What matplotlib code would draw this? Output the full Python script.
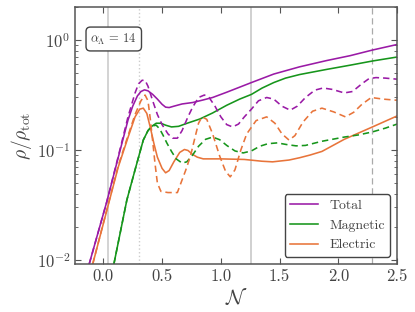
import matplotlib
matplotlib.use("Agg")
import matplotlib.pyplot as plt

plt.rcParams["font.family"] = "serif"
plt.rcParams["font.serif"] = ["cmr10", "DejaVu Serif"]
plt.rcParams["mathtext.fontset"] = "cm"
plt.rcParams["axes.formatter.use_mathtext"] = True

# --- datos ---
n_total = [-0.12, 0.03, 0.13, 0.21, 0.25, 0.29, 0.32, 0.35, 0.38, 0.42, 0.46, 0.50,
           0.53, 0.56, 0.60, 0.67, 0.76, 0.85, 0.93, 1.05, 1.26, 1.45, 1.67, 1.90,
           2.10, 2.29, 2.50]
total = [0.0092, 0.034, 0.088, 0.187, 0.25, 0.31, 0.34, 0.352, 0.345, 0.32, 0.29, 0.26,
         0.245, 0.243, 0.25, 0.262, 0.27, 0.285, 0.30, 0.335, 0.41, 0.49, 0.57, 0.65,
         0.72, 0.81, 0.91]

n_total_b = [-0.12, 0.03, 0.13, 0.21, 0.27, 0.30, 0.33, 0.355, 0.38, 0.42, 0.46, 0.50,
             0.55, 0.59, 0.63, 0.67, 0.72, 0.76, 0.81, 0.86, 0.90, 0.95, 1.00, 1.05,
             1.10, 1.15, 1.20, 1.26, 1.32, 1.39, 1.45, 1.52, 1.59, 1.65, 1.72, 1.80,
             1.87, 1.95, 2.05, 2.12, 2.20, 2.26, 2.32, 2.40, 2.50]
total_b = [0.0092, 0.034, 0.09, 0.20, 0.33, 0.40, 0.43, 0.43, 0.38, 0.28, 0.21, 0.17,
           0.14, 0.128, 0.128, 0.15, 0.20, 0.245, 0.30, 0.316, 0.30, 0.25, 0.20, 0.17,
           0.162, 0.172, 0.20, 0.235, 0.28, 0.30, 0.29, 0.25, 0.23, 0.25, 0.30, 0.35,
           0.366, 0.355, 0.33, 0.34, 0.40, 0.445, 0.455, 0.45, 0.44]

n_mag = [0.09, 0.20, 0.27, 0.34, 0.38, 0.415, 0.45, 0.49, 0.53, 0.58, 0.64, 0.72,
         0.82, 0.93, 1.05, 1.16, 1.26, 1.35, 1.45, 1.55, 1.67, 1.90, 2.10, 2.29, 2.50]
mag = [0.0092, 0.035, 0.066, 0.123, 0.15, 0.165, 0.175, 0.175, 0.168, 0.162, 0.164, 0.176,
       0.191, 0.217, 0.255, 0.29, 0.32, 0.365, 0.41, 0.45, 0.485, 0.54, 0.59, 0.644, 0.70]

n_mag_b = [0.09, 0.20, 0.27, 0.34, 0.38, 0.415, 0.45, 0.48, 0.51, 0.54, 0.58, 0.62,
           0.67, 0.71, 0.76, 0.81, 0.87, 0.93, 0.99, 1.05, 1.12, 1.19, 1.26, 1.33,
           1.40, 1.48, 1.56, 1.64, 1.72, 1.86, 2.05, 2.17, 2.29, 2.40, 2.50]
mag_b = [0.0092, 0.035, 0.066, 0.123, 0.15, 0.165, 0.168, 0.155, 0.135, 0.116, 0.097, 0.083,
         0.076, 0.078, 0.09, 0.108, 0.125, 0.131, 0.124, 0.11, 0.098, 0.094, 0.098, 0.108,
         0.114, 0.116, 0.112, 0.109, 0.11, 0.12, 0.131, 0.137, 0.146, 0.158, 0.172]

n_ele = [-0.09, 0.127, 0.21, 0.27, 0.31, 0.34, 0.37, 0.40, 0.43, 0.46, 0.50, 0.53,
         0.56, 0.60, 0.65, 0.69, 0.72, 0.76, 0.80, 0.85, 1.00, 1.20, 1.35, 1.44,
         1.58, 1.67, 1.76, 1.86, 2.05, 2.29, 2.50]
ele = [0.0092, 0.07, 0.13, 0.20, 0.235, 0.24, 0.215, 0.16, 0.115, 0.086, 0.068, 0.062,
       0.065, 0.078, 0.095, 0.101, 0.099, 0.091, 0.086, 0.083, 0.083, 0.082, 0.079, 0.078,
       0.081, 0.085, 0.09, 0.097, 0.125, 0.162, 0.204]

n_ele_b = [-0.09, 0.127, 0.21, 0.27, 0.32, 0.355, 0.38, 0.40, 0.42, 0.44, 0.46, 0.49,
           0.55, 0.63, 0.66, 0.70, 0.74, 0.78, 0.81, 0.84, 0.88, 0.93, 0.99, 1.04,
           1.08, 1.12, 1.17, 1.22, 1.30, 1.39, 1.46, 1.52, 1.58, 1.63, 1.70, 1.78,
           1.86, 1.96, 2.06, 2.13, 2.20, 2.28, 2.38, 2.50]
ele_b = [0.0092, 0.072, 0.135, 0.21, 0.28, 0.316, 0.28, 0.19, 0.12, 0.075, 0.05, 0.042,
         0.041, 0.041, 0.05, 0.065, 0.087, 0.13, 0.175, 0.20, 0.19, 0.14, 0.088, 0.064,
         0.057, 0.066, 0.10, 0.14, 0.185, 0.20, 0.175, 0.14, 0.123, 0.135, 0.18, 0.225,
         0.24, 0.222, 0.20, 0.22, 0.26, 0.30, 0.29, 0.283]

lineas_v = [0.04, 0.30, 1.26, 2.29]

morado = "#9a1aa6"
verde = "#16951b"
naranja = "#e8743a"
gris = "#444444"

fig = plt.figure(figsize=(4.15, 3.12), dpi=100)
ax = fig.add_axes([0.181, 0.154, 0.776, 0.824])

ax.axvline(lineas_v[0], color="#cccccc", lw=1.2, zorder=1)
ax.axvline(lineas_v[1], color="#cccccc", lw=1.0, ls=":", zorder=1)
ax.axvline(lineas_v[2], color="#c8c8c8", lw=1.2, zorder=1)
ax.axvline(lineas_v[3], color="#aaaaaa", lw=0.9, ls=(0, (5, 3)), zorder=1)

lw = 1.15
ax.plot(n_total, total, color=morado, lw=lw, label="Total")
ax.plot(n_mag, mag, color=verde, lw=lw, label="Magnetic")
ax.plot(n_ele, ele, color=naranja, lw=lw, label="Electric")
ax.plot(n_total_b, total_b, color=morado, lw=lw, ls=(0, (4, 2.5)))
ax.plot(n_mag_b, mag_b, color=verde, lw=lw, ls=(0, (4, 2.5)))
ax.plot(n_ele_b, ele_b, color=naranja, lw=lw, ls=(0, (4, 2.5)))

ax.set_yscale("log")
ax.set_xlim(-0.24, 2.5)
ax.set_ylim(0.0092, 2.0)
ax.set_xticks([0.0, 0.5, 1.0, 1.5, 2.0, 2.5])
ax.set_xticklabels(["0.0", "0.5", "1.0", "1.5", "2.0", "2.5"])

for s in ax.spines.values():
    s.set_color("#555555")
    s.set_linewidth(1.1)
ax.tick_params(which="both", direction="in", top=True, right=True, colors="#555555",
               labelsize=12, labelcolor=gris)
ax.tick_params(which="major", length=4)
ax.tick_params(which="minor", length=2)

ax.set_xlabel(r"$\mathcal{N}$", fontsize=15, color=gris, labelpad=2)
ax.set_ylabel(r"$\rho/\rho_{\rm tot}$", fontsize=14, color=gris, labelpad=2)

ax.text(0.12, 0.875, r"$\alpha_\Lambda\,=\,14$", transform=ax.transAxes, fontsize=9,
        color=gris, ha="center", va="center",
        bbox=dict(boxstyle="round,pad=0.35", fc="white", ec=gris, lw=1.0))

leg = ax.legend(loc="lower right", fontsize=10, fancybox=True, framealpha=1,
                edgecolor=gris)
for t in leg.get_texts():
    t.set_color(gris)

fig.savefig("out.png", dpi=100)
